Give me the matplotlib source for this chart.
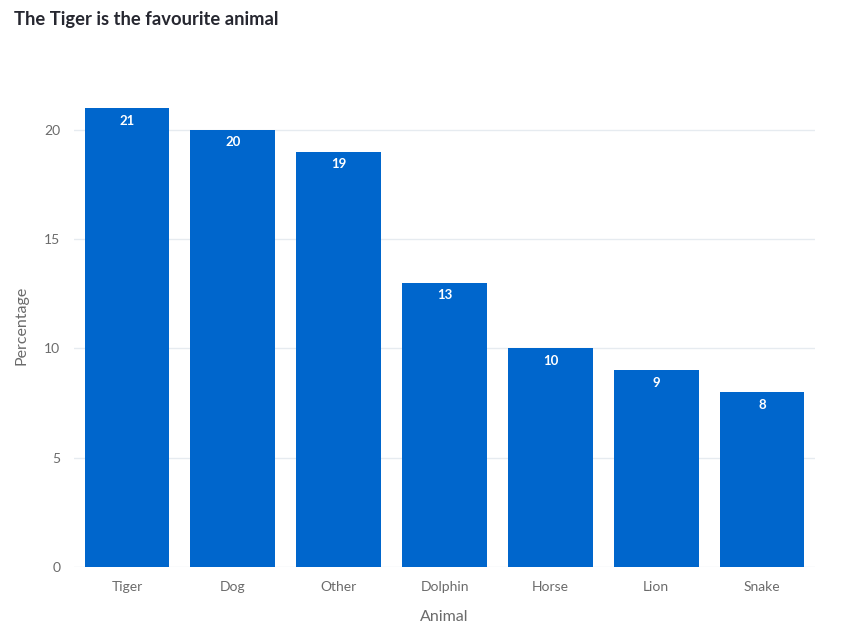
import matplotlib
matplotlib.use("Agg")
import matplotlib.pyplot as plt
import numpy as np

animals = ["Tiger", "Dog", "Other", "Dolphin", "Horse", "Lion", "Snake"]
percentages = [21, 20, 19, 13, 10, 9, 8]
y_ticks = [0, 5, 10, 15, 20]

plt.rcParams["font.family"] = ["Lato", "DejaVu Sans"]

fig = plt.figure(figsize=(8.53, 6.38), dpi=100)
ax = fig.add_axes([0.0868, 0.1113, 0.8687, 0.757])

x = np.arange(len(animals))
bars = ax.bar(x, percentages, width=0.8, color="#0066cc", zorder=2)
for rect, val in zip(bars, percentages):
    ax.text(rect.get_x() + rect.get_width() / 2, val - 0.3, str(val),
            ha="center", va="top", color="white", fontsize=9.5, fontweight="bold")

ax.set_xlim(-0.5, len(animals) - 0.5)
ax.set_ylim(0, 22.1)
ax.set_xticks(x)
ax.set_xticklabels(animals)
ax.set_yticks(y_ticks)
ax.grid(axis="y", color="#e6ebf0", linewidth=1, zorder=0)
ax.tick_params(axis="both", length=0, labelsize=10, labelcolor="#6b6b6b")
ax.tick_params(axis="x", pad=10)
ax.tick_params(axis="y", pad=10)
for s in ax.spines.values():
    s.set_visible(False)

ax.set_xlabel("Animal", fontsize=11.5, color="#6b6b6b", labelpad=12)
ax.set_ylabel("Percentage", fontsize=11.5, color="#6b6b6b", labelpad=11)

fig.text(14 / 853, 1 - 20 / 638, "The Tiger is the favourite animal", fontsize=13.2,
         fontweight="bold", color="#262730", ha="left", va="center")

fig.savefig("out.png", dpi=100, facecolor="white")
